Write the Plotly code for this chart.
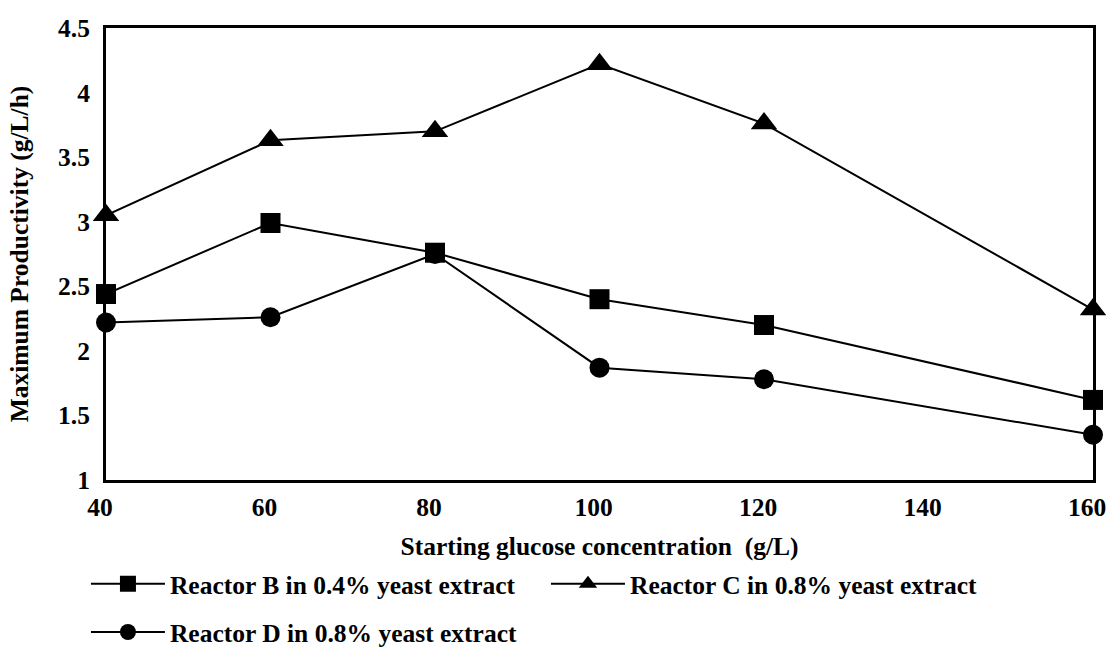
import plotly.graph_objects as go

# Starting glucose concentration (g/L)
glucose = [40, 60, 80, 100, 120, 160]

# Maximum productivity (g/L/h) for each reactor
reactor_b = [2.44, 2.99, 2.76, 2.40, 2.20, 1.62]
reactor_c = [3.05, 3.63, 3.70, 4.22, 3.76, 2.32]
reactor_d = [2.22, 2.26, 2.75, 1.87, 1.78, 1.35]

x_ticks = [40, 60, 80, 100, 120, 140, 160]
y_ticks = [1, 1.5, 2, 2.5, 3, 3.5, 4, 4.5]

FONT = "Liberation Serif"
fs = 25.5

fig = go.Figure()

# (name, values, marker symbol, marker size, legend id)
series = [
    ("Reactor D in 0.8% yeast extract", reactor_d, "circle", 20, "legend3"),
    ("Reactor B in 0.4% yeast extract", reactor_b, "square", 20, "legend"),
    ("Reactor C in 0.8% yeast extract", reactor_c, "triangle-up", 23, "legend2"),
]
for name, vals, sym, size, leg in series:
    fig.add_trace(go.Scatter(
        x=glucose, y=vals, name=f"<b>{name}</b>", mode="lines+markers",
        line=dict(color="black", width=2),
        marker=dict(symbol=sym, size=size, color="black"),
        cliponaxis=False, legend=leg,
    ))

legend_common = dict(
    orientation="h", xanchor="left", yanchor="middle",
    xref="container", yref="container",
    font=dict(family=FONT, size=fs, color="black"),
    bgcolor="rgba(0,0,0,0)", itemwidth=74, itemsizing="trace",
)

fig.update_layout(
    width=1109, height=652,
    margin=dict(l=106, r=16, t=28, b=172, autoexpand=False),
    paper_bgcolor="white", plot_bgcolor="white",
    font=dict(family=FONT, size=fs, color="black"),
    showlegend=True,
    legend=dict(x=0.0775, y=0.104, **legend_common),
    legend2=dict(x=0.4923, y=0.104, **legend_common),
    legend3=dict(x=0.0775, y=0.030, **legend_common),
    xaxis=dict(
        range=[40, 160], tickvals=x_ticks,
        ticktext=[f"<b>{v}</b>" for v in x_ticks],
        showgrid=False, zeroline=False,
        showline=True, linecolor="black", linewidth=3, mirror=True,
        ticks="outside", ticklen=2, tickcolor="rgba(0,0,0,0)",
        ticklabelshift=-6, ticklabeloverflow="allow",
        tickfont=dict(family=FONT, size=fs, color="black"),
        title=dict(text="<b>Starting glucose concentration&nbsp;&nbsp;(g/L)</b>",
                   font=dict(family=FONT, size=fs, color="black"), standoff=44),
    ),
    yaxis=dict(
        range=[1, 4.5], tickvals=y_ticks,
        ticktext=[f"<b>{v:g}</b>" for v in y_ticks],
        showgrid=False, zeroline=False,
        showline=True, linecolor="black", linewidth=3, mirror=True,
        ticks="outside", ticklen=8, tickcolor="rgba(0,0,0,0)",
        ticklabeloverflow="allow",
        tickfont=dict(family=FONT, size=fs, color="black"),
        title=dict(text="<b>Maximum Productivity (g/L/h)</b>",
                   font=dict(family=FONT, size=fs, color="black"), standoff=23),
    ),
)

fig.write_html("out.html")
